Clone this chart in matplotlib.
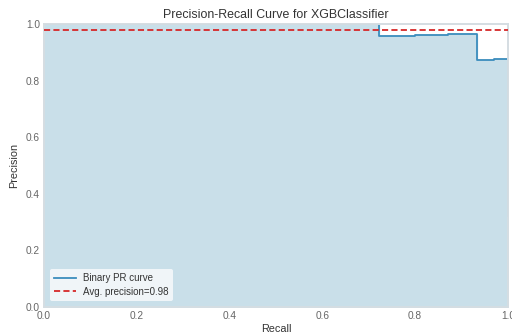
import matplotlib
matplotlib.use('Agg')
import matplotlib.pyplot as plt
import numpy as np

# step points of the PR curve (where='post')
recall = [0.0, 0.722, 0.80, 0.87, 0.933, 0.97, 1.0]
precision = [1.0, 0.958, 0.961, 0.964, 0.872, 0.875, 0.32]
avg_precision = 0.98

title = 'Precision-Recall Curve for XGBClassifier'
ticks = [0.0, 0.2, 0.4, 0.6, 0.8, 1.0]


def plot():
    plt.rcParams['font.family'] = ['Liberation Sans', 'DejaVu Sans']
    fig = plt.figure(figsize=(5.12, 3.34), dpi=100)
    ax = fig.add_axes([0.086, 0.081, 0.906, 0.847])

    ax.fill_between(recall, precision, step='post', color='#c9dfe9', zorder=1)
    ax.step(recall, precision, where='post', color='#3b8dbd', lw=1.3,
            label='Binary PR curve', zorder=2)
    ax.axhline(avg_precision, color='#d62728', ls='--', lw=1.3, dashes=(3.4, 1.8),
               label='Avg. precision={:0.2f}'.format(avg_precision), zorder=4)

    ax.set_xlim(0, 1)
    ax.set_ylim(0, 1)
    ax.set_xticks(ticks)
    ax.set_yticks(ticks)
    ax.tick_params(labelsize=7.3, colors='#666666', length=0, pad=3)
    for s in ax.spines.values():
        s.set_color('#d5dde2')
        s.set_linewidth(1.4)
    ax.grid(False)

    ax.set_title(title, fontsize=8.9, color='#333333', pad=4)
    ax.set_xlabel('Recall', fontsize=7.8, color='#333333', labelpad=2)
    ax.set_ylabel('Precision', fontsize=7.8, color='#333333', labelpad=5)

    leg = ax.legend(loc='lower left', fontsize=7, frameon=True, handlelength=2.2,
                    borderpad=0.45, labelspacing=0.35, borderaxespad=0.6)
    leg.get_frame().set_facecolor('#f5f8fa')
    leg.get_frame().set_edgecolor('none')
    leg.get_frame().set_alpha(0.9)
    for t in leg.get_texts():
        t.set_color('#333333')

    fig.savefig('out.png', dpi=100)


if __name__ == '__main__':
    plot()
